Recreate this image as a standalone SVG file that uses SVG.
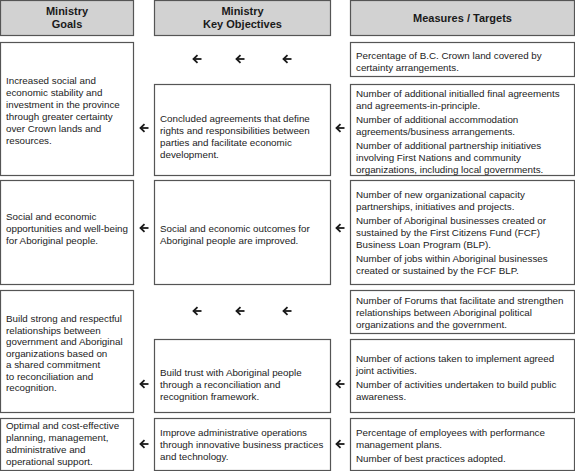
<svg xmlns="http://www.w3.org/2000/svg" xmlns:xlink="http://www.w3.org/1999/xlink" width="575" height="471" viewBox="0 0 575 471">
<style>
.hdr{fill:#d2d2d2;stroke:#555;stroke-width:1.2}
.box{fill:#fff;stroke:#555;stroke-width:1.2}
.ht{font-family:"Liberation Sans",Arial,sans-serif;font-size:11px;font-weight:bold;fill:#1a1a1a;text-anchor:middle}
.t{font-family:"Liberation Sans",Arial,sans-serif;font-size:9.8px;fill:#222}
.arr path{fill:none;stroke:#1a1a1a;stroke-width:1.8}
</style>
<defs>
<g id="arr" class="arr"><path d="M4.5,0 H-3.5"/><path d="M0.5,-3.8 L-3.5,0 L0.5,3.8"/></g>
</defs>
<rect width="575" height="471" fill="#fff"/>
<g id="hdr-goals"><rect class="hdr" x="0.5" y="0.5" width="133" height="35"/><text class="ht" x="67" y="15">Ministry</text><text class="ht" x="67" y="28">Goals</text></g>
<g id="hdr-objectives"><rect class="hdr" x="154.5" y="0.5" width="176" height="35"/><text class="ht" x="242.5" y="15">Ministry</text><text class="ht" x="242.5" y="28">Key Objectives</text></g>
<g id="hdr-measures"><rect class="hdr" x="350.5" y="0.5" width="224" height="35"/><text class="ht" x="462.5" y="22">Measures / Targets</text></g>

<g id="goal1"><rect class="box" x="0.5" y="42.5" width="133" height="133"/>
<text class="t" x="6" y="84">Increased social and</text>
<text class="t" x="6" y="96">economic stability and</text>
<text class="t" x="6" y="108">investment in the province</text>
<text class="t" x="6" y="120">through greater certainty</text>
<text class="t" x="6" y="132">over Crown lands and</text>
<text class="t" x="6" y="144">resources.</text></g>
<g id="measure1a"><rect class="box" x="350.5" y="42.5" width="224" height="34"/>
<text class="t" x="356" y="59">Percentage of B.C. Crown land covered by</text>
<text class="t" x="356" y="71">certainty arrangements.</text></g>
<g id="objective1"><rect class="box" x="154.5" y="84.5" width="176" height="91"/>
<text class="t" x="160" y="122">Concluded agreements that define</text>
<text class="t" x="160" y="134">rights and responsibilities between</text>
<text class="t" x="160" y="146">parties and facilitate economic</text>
<text class="t" x="160" y="158">development.</text></g>
<g id="measure1b"><rect class="box" x="350.5" y="84.5" width="224" height="91"/>
<text class="t" x="356" y="97">Number of additional initialled final agreements</text>
<text class="t" x="356" y="109">and agreements-in-principle.</text>
<text class="t" x="356" y="123">Number of additional accommodation</text>
<text class="t" x="356" y="135">agreements/business arrangements.</text>
<text class="t" x="356" y="149">Number of additional partnership initiatives</text>
<text class="t" x="356" y="161">involving First Nations and community</text>
<text class="t" x="356" y="173">organizations, including local governments.</text></g>

<g id="goal2"><rect class="box" x="0.5" y="180.5" width="133" height="104"/>
<text class="t" x="6" y="220">Social and economic</text>
<text class="t" x="6" y="232">opportunities and well-being</text>
<text class="t" x="6" y="244">for Aboriginal people.</text></g>
<g id="objective2"><rect class="box" x="154.5" y="180.5" width="176" height="104"/>
<text class="t" x="160" y="232">Social and economic outcomes for</text>
<text class="t" x="160" y="244">Aboriginal people are improved.</text></g>
<g id="measure2"><rect class="box" x="350.5" y="180.5" width="224" height="104"/>
<text class="t" x="356" y="198">Number of new organizational capacity</text>
<text class="t" x="356" y="210">partnerships, initiatives and projects.</text>
<text class="t" x="356" y="224">Number of Aboriginal businesses created or</text>
<text class="t" x="356" y="236">sustained by the First Citizens Fund (FCF)</text>
<text class="t" x="356" y="248">Business Loan Program (BLP).</text>
<text class="t" x="356" y="262">Number of jobs within Aboriginal businesses</text>
<text class="t" x="356" y="274">created or sustained by the FCF BLP.</text></g>

<g id="goal3"><rect class="box" x="0.5" y="290.5" width="133" height="122"/>
<text class="t" x="6" y="322">Build strong and respectful</text>
<text class="t" x="6" y="333.5">relationships between</text>
<text class="t" x="6" y="345">government and Aboriginal</text>
<text class="t" x="6" y="356.5">organizations based on</text>
<text class="t" x="6" y="368">a shared commitment</text>
<text class="t" x="6" y="379.5">to reconciliation and</text>
<text class="t" x="6" y="391">recognition.</text></g>
<g id="measure3a"><rect class="box" x="350.5" y="290.5" width="224" height="43"/>
<text class="t" x="356" y="304">Number of Forums that facilitate and strengthen</text>
<text class="t" x="356" y="316">relationships between Aboriginal political</text>
<text class="t" x="356" y="328">organizations and the government.</text></g>
<g id="objective3"><rect class="box" x="154.5" y="339.5" width="176" height="73"/>
<text class="t" x="160" y="376">Build trust with Aboriginal people</text>
<text class="t" x="160" y="388">through a reconciliation and</text>
<text class="t" x="160" y="400">recognition framework.</text></g>
<g id="measure3b"><rect class="box" x="350.5" y="339.5" width="224" height="73"/>
<text class="t" x="356" y="362">Number of actions taken to implement agreed</text>
<text class="t" x="356" y="374">joint activities.</text>
<text class="t" x="356" y="388">Number of activities undertaken to build public</text>
<text class="t" x="356" y="400">awareness.</text></g>

<g id="goal4"><rect class="box" x="0.5" y="418.5" width="133" height="52"/>
<text class="t" x="6" y="429">Optimal and cost-effective</text>
<text class="t" x="6" y="441">planning, management,</text>
<text class="t" x="6" y="453">administrative and</text>
<text class="t" x="6" y="465">operational support.</text></g>
<g id="objective4"><rect class="box" x="154.5" y="418.5" width="176" height="52"/>
<text class="t" x="160" y="436">Improve administrative operations</text>
<text class="t" x="160" y="448">through innovative business practices</text>
<text class="t" x="160" y="460">and technology.</text></g>
<g id="measure4"><rect class="box" x="350.5" y="418.5" width="224" height="52"/>
<text class="t" x="356" y="436">Percentage of employees with performance</text>
<text class="t" x="356" y="448">management plans.</text>
<text class="t" x="356" y="462">Number of best practices adopted.</text></g>

<g id="connectors">
<use xlink:href="#arr" x="197" y="59"/>
<use xlink:href="#arr" x="240" y="59"/>
<use xlink:href="#arr" x="287" y="59"/>
<use xlink:href="#arr" x="144" y="128"/>
<use xlink:href="#arr" x="340" y="128"/>
<use xlink:href="#arr" x="144" y="228"/>
<use xlink:href="#arr" x="340" y="228"/>
<use xlink:href="#arr" x="197" y="311"/>
<use xlink:href="#arr" x="240" y="311"/>
<use xlink:href="#arr" x="287" y="311"/>
<use xlink:href="#arr" x="144" y="384"/>
<use xlink:href="#arr" x="340" y="384"/>
<use xlink:href="#arr" x="144" y="444"/>
<use xlink:href="#arr" x="340" y="444"/>
</g>
</svg>
